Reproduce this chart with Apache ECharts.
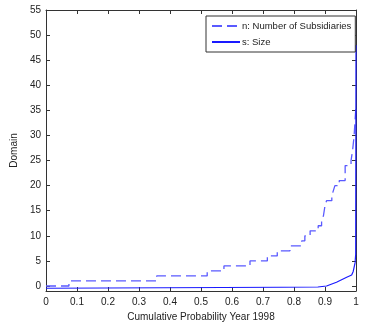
<!DOCTYPE html>
<html>
<head>
<meta charset="utf-8">
<script src="https://cdn.jsdelivr.net/npm/echarts@6/dist/echarts.min.js"></script>
<style>
  html, body { margin: 0; padding: 0; background: #fff; }
  #chart { width: 373px; height: 327px; }
</style>
</head>
<body>
<div id="chart"></div>
<script>
// n: number of subsidiaries (step curve, value holds from p to next p)
const nProb = [0, 0.074, 0.357, 0.52, 0.574, 0.658, 0.714, 0.746, 0.787, 0.825, 0.835, 0.852, 0.878, 0.889, 0.895, 0.9, 0.905, 0.922, 0.927, 0.932, 0.946, 0.965, 0.984, 0.989, 0.994, 0.997, 1]
const nValue = [0, 1, 2, 3, 4, 5, 6, 7, 8, 9, 10, 11, 12, 13, 14, 16, 17, 18, 19, 20, 21, 24, 25, 27, 30, 33, 36]
// s: size
const sProb = [0, 0.76, 0.877, 0.905, 0.937, 0.97, 0.986, 0.991, 0.997, 0.999, 1]
const sValue = [-0.45, -0.25, -0.2, 0, 0.75, 1.75, 2.2, 2.9, 4.6, 6.3, 48]
const yTicks = [0, 5, 10, 15, 20, 25, 30, 35, 40, 45, 50, 55]

const font = 'Liberation Sans, Arial, sans-serif'
const axisColor = '#333'

let myChart = echarts.init(document.getElementById('chart'))

function xAx(pos, labels) {
  return {
    type: 'value',
    position: pos,
    min: 0,
    max: 1,
    interval: 0.1,
    axisLine: { show: true, onZero: false, lineStyle: { color: axisColor, width: 1 } },
    axisTick: { show: true, inside: true, length: 4, lineStyle: { color: axisColor } },
    axisLabel: {
      show: labels,
      color: '#222',
      fontSize: 10,
      fontFamily: font,
      margin: 6,
      formatter: v => String(+v.toFixed(1))
    },
    splitLine: { show: false }
  }
}

function yAx(pos, labels) {
  return {
    type: 'value',
    position: pos,
    min: -1,
    max: 55,
    axisLine: { show: true, onZero: false, lineStyle: { color: axisColor, width: 1 } },
    axisTick: { show: true, inside: true, length: 4, customValues: yTicks, lineStyle: { color: axisColor } },
    axisLabel: {
      show: labels,
      customValues: yTicks,
      color: '#222',
      fontSize: 10,
      fontFamily: font,
      margin: 5
    },
    splitLine: { show: false }
  }
}

let bottomX = xAx('bottom', true)
bottomX.name = 'Cumulative Probability Year 1998'
bottomX.nameLocation = 'middle'
bottomX.nameGap = 19
bottomX.nameTextStyle = { color: '#222', fontSize: 10, fontFamily: font }

let leftY = yAx('left', true)
leftY.name = 'Domain'
leftY.nameLocation = 'middle'
leftY.nameGap = 19
leftY.nameTextStyle = { color: '#222', fontSize: 10, fontFamily: font }

let option = {
  animation: false,
  grid: { left: 46, right: 17, top: 10, bottom: 36, containLabel: false },
  legend: {
    orient: 'vertical',
    left: 206,
    top: 16,
    padding: [5, 4, 5, 5],
    itemGap: 6,
    itemWidth: 28,
    itemHeight: 10,
    borderColor: '#333',
    borderWidth: 1,
    backgroundColor: '#fff',
    itemStyle: { opacity: 0 },
    textStyle: { color: '#222', fontSize: 9.5, fontFamily: font, padding: [0, 0, 0, -3] },
    data: ['n: Number of Subsidiaries', 's: Size']
  },
  xAxis: [bottomX, xAx('top', false)],
  yAxis: [leftY, yAx('right', false)],
  series: [
    {
      name: 'n: Number of Subsidiaries',
      type: 'line',
      step: 'end',
      symbol: 'none',
      data: nProb.map((p, i) => [p, nValue[i]]),
      lineStyle: { color: '#5a5aff', width: 1.3, type: [10, 5] },
      itemStyle: { color: '#5a5aff' }
    },
    {
      name: 's: Size',
      type: 'line',
      symbol: 'none',
      data: sProb.map((p, i) => [p, sValue[i]]),
      lineStyle: { color: '#1a1aff', width: 1.2 },
      itemStyle: { color: '#1a1aff' }
    }
  ]
}

myChart.setOption(option)
</script>
</body>
</html>
